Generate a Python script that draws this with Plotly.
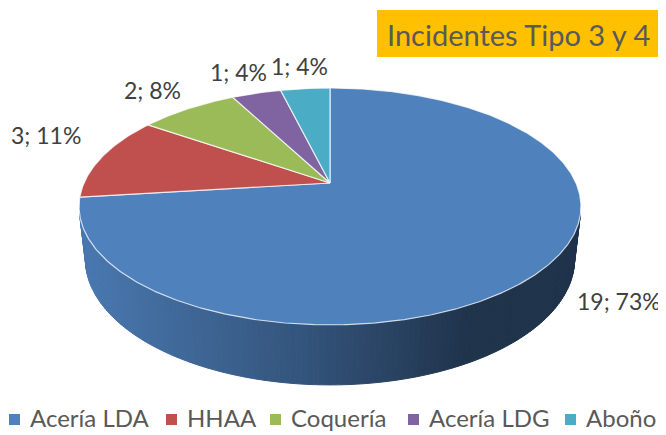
import numpy as np
import plotly.graph_objects as go

# ---------------- data ----------------
categories = ["Acería LDA", "HHAA", "Coquería", "Acería LDG", "Aboño"]
values = [19, 3, 2, 1, 1]
pct_labels = [73, 11, 8, 4, 4]
colors = ["#4F81BD", "#C0504D", "#9BBB59", "#8064A2", "#4BACC6"]
title_text = "Incidentes Tipo 3 y 4"

# ---------------- 3D projection setup (layout) ----------------
W, H = 666, 435
PAGE_OFF = 8               # default body margin of the html page
CX, CY = 330.0, 183.0      # projected pie centre
K = 246.0                  # horizontal scale
P = 0.198                  # perspective strength
M = 113.8                  # vertical scale
DEPTH = 0.244              # pie thickness (relative to radius)
LABEL_R = 1.3
SIDE_GAP = 19              # gap for labels at the far left/right of the pie
SIDE_RAISE = 22

elev = np.arcsin(M / K)
D = np.cos(elev) / P
F = K * D


def proj(X, Y, Z):
    X = np.asarray(X, float); Y = np.asarray(Y, float); Z = np.asarray(Z, float)
    depth = D - Y * np.cos(elev) - Z * np.sin(elev)
    sx = CX + F * X / depth
    sy = CY + F * (Y * np.sin(elev) - Z * np.cos(elev)) / depth
    return sx, sy


def disc(phi_deg, r=1.0):
    a = np.radians(phi_deg)
    return r * np.sin(a), -r * np.cos(a)


def hex2rgb(h):
    h = h.lstrip("#")
    return tuple(int(h[i:i + 2], 16) for i in (0, 2, 4))


total = float(sum(values))
cum = np.concatenate([[0], np.cumsum(values)]) / total * 360.0

fig = go.Figure()

# ---------------- side wall (visible front part) ----------------
Yt = 1.0 / (D * np.cos(elev))
phi1 = np.degrees(np.arccos(-Yt))
phi2 = 360.0 - phi1
N = 140
edges = np.linspace(phi1, phi2, N + 1)
for i in range(N):
    pa, pb = edges[i], edges[i + 1]
    pm = 0.5 * (pa + pb)
    idx = int(np.searchsorted(cum, pm, side="right") - 1)
    idx = min(max(idx, 0), len(values) - 1)
    ph = np.linspace(pa, pb, 4)
    Xa, Ya = disc(ph)
    tx, ty = proj(Xa, Ya, np.zeros_like(Xa))
    bx, by = proj(Xa, Ya, -DEPTH * np.ones_like(Xa))
    xs = np.concatenate([tx, bx[::-1], tx[:1]])
    ys = np.concatenate([ty, by[::-1], ty[:1]])
    xm = float(np.mean(tx))
    f = float(np.interp(xm, [82, 300, 470], [0.93, 0.66, 0.40]))
    r, g, b = hex2rgb(colors[idx])
    col = f"rgb({int(r * f)},{int(g * f)},{int(b * f)})"
    fig.add_trace(go.Scatter(x=xs, y=ys, mode="lines", fill="toself",
                             fillcolor=col, line=dict(color=col, width=1),
                             hoverinfo="skip", showlegend=False))

# ---------------- top faces ----------------
for i, (cat, v) in enumerate(zip(categories, values)):
    ph = np.linspace(cum[i], cum[i + 1], max(int((cum[i + 1] - cum[i]) * 2), 4))
    Xa, Ya = disc(ph)
    ax, ay = proj(Xa, Ya, np.zeros_like(Xa))
    ox, oy = proj(0.0, 0.0, 0.0)
    xs = np.concatenate([[ox], ax, [ox]])
    ys = np.concatenate([[oy], ay, [oy]])
    fig.add_trace(go.Scatter(x=xs, y=ys, mode="lines", fill="toself",
                             fillcolor=colors[i],
                             line=dict(color="rgba(255,255,255,0.75)", width=1.2),
                             hoverinfo="skip", showlegend=False, name=cat))

# ---------------- data labels ----------------
annotations = []
lab_font = dict(family="Lato, 'Open Sans', sans-serif", size=23, color="#404040")
for i, v in enumerate(values):
    pm = 0.5 * (cum[i] + cum[i + 1])
    Xe, Ye = disc(pm, 1.0)
    txt = f"{v}; {pct_labels[i]}%"
    if abs(Xe) > 0.9:
        # labels at the far sides: beside the rim, slightly raised
        ex, ey = proj(Xe, Ye, 0.0)
        sgn = 1 if Xe > 0 else -1
        annotations.append(dict(x=float(ex + sgn * SIDE_GAP), y=float(ey - SIDE_RAISE),
                                xref="x", yref="y", text=txt, showarrow=False,
                                xanchor="left" if sgn > 0 else "right",
                                yanchor="middle", font=lab_font))
    else:
        Xm, Ym = disc(pm, LABEL_R)
        lx, ly = proj(Xm, Ym, 0.0)
        annotations.append(dict(x=float(lx), y=float(ly), xref="x", yref="y",
                                text=txt, showarrow=False,
                                xanchor="center", yanchor="middle", font=lab_font))

# ---------------- title box ----------------
shapes = [dict(type="rect", xref="x", yref="y", x0=377, x1=660, y0=10, y1=57,
               fillcolor="#FFC000", line=dict(width=0), layer="below")]
annotations.append(dict(x=518.5, y=34, xref="x", yref="y", text=title_text,
                        showarrow=False, xanchor="center", yanchor="middle",
                        font=dict(family="Lato, 'Open Sans', sans-serif",
                                  size=29, color="#595959")))

# ---------------- legend (swatch + text) ----------------
legend_sq_x = [9, 166, 270, 408, 565]
legend_tx_x = [28, 185, 289, 427, 584]
for i, cat in enumerate(categories):
    shapes.append(dict(type="rect", xref="x", yref="y",
                       x0=legend_sq_x[i], x1=legend_sq_x[i] + 11,
                       y0=414, y1=425, fillcolor=colors[i], line=dict(width=0)))
    annotations.append(dict(x=legend_tx_x[i], y=434, xref="x", yref="y",
                            text=cat, showarrow=False, xanchor="left",
                            yanchor="bottom",
                            font=dict(family="Lato, 'Open Sans', sans-serif",
                                      size=24, color="#595959")))

fig.update_layout(
    width=W, height=H,
    margin=dict(l=0, r=0, t=0, b=0),
    paper_bgcolor="white", plot_bgcolor="white",
    xaxis=dict(range=[PAGE_OFF, W + PAGE_OFF], visible=False, fixedrange=True),
    yaxis=dict(range=[H + PAGE_OFF, PAGE_OFF], visible=False, fixedrange=True),
    shapes=shapes, annotations=annotations, showlegend=False,
)

fig.write_html("out.html")
